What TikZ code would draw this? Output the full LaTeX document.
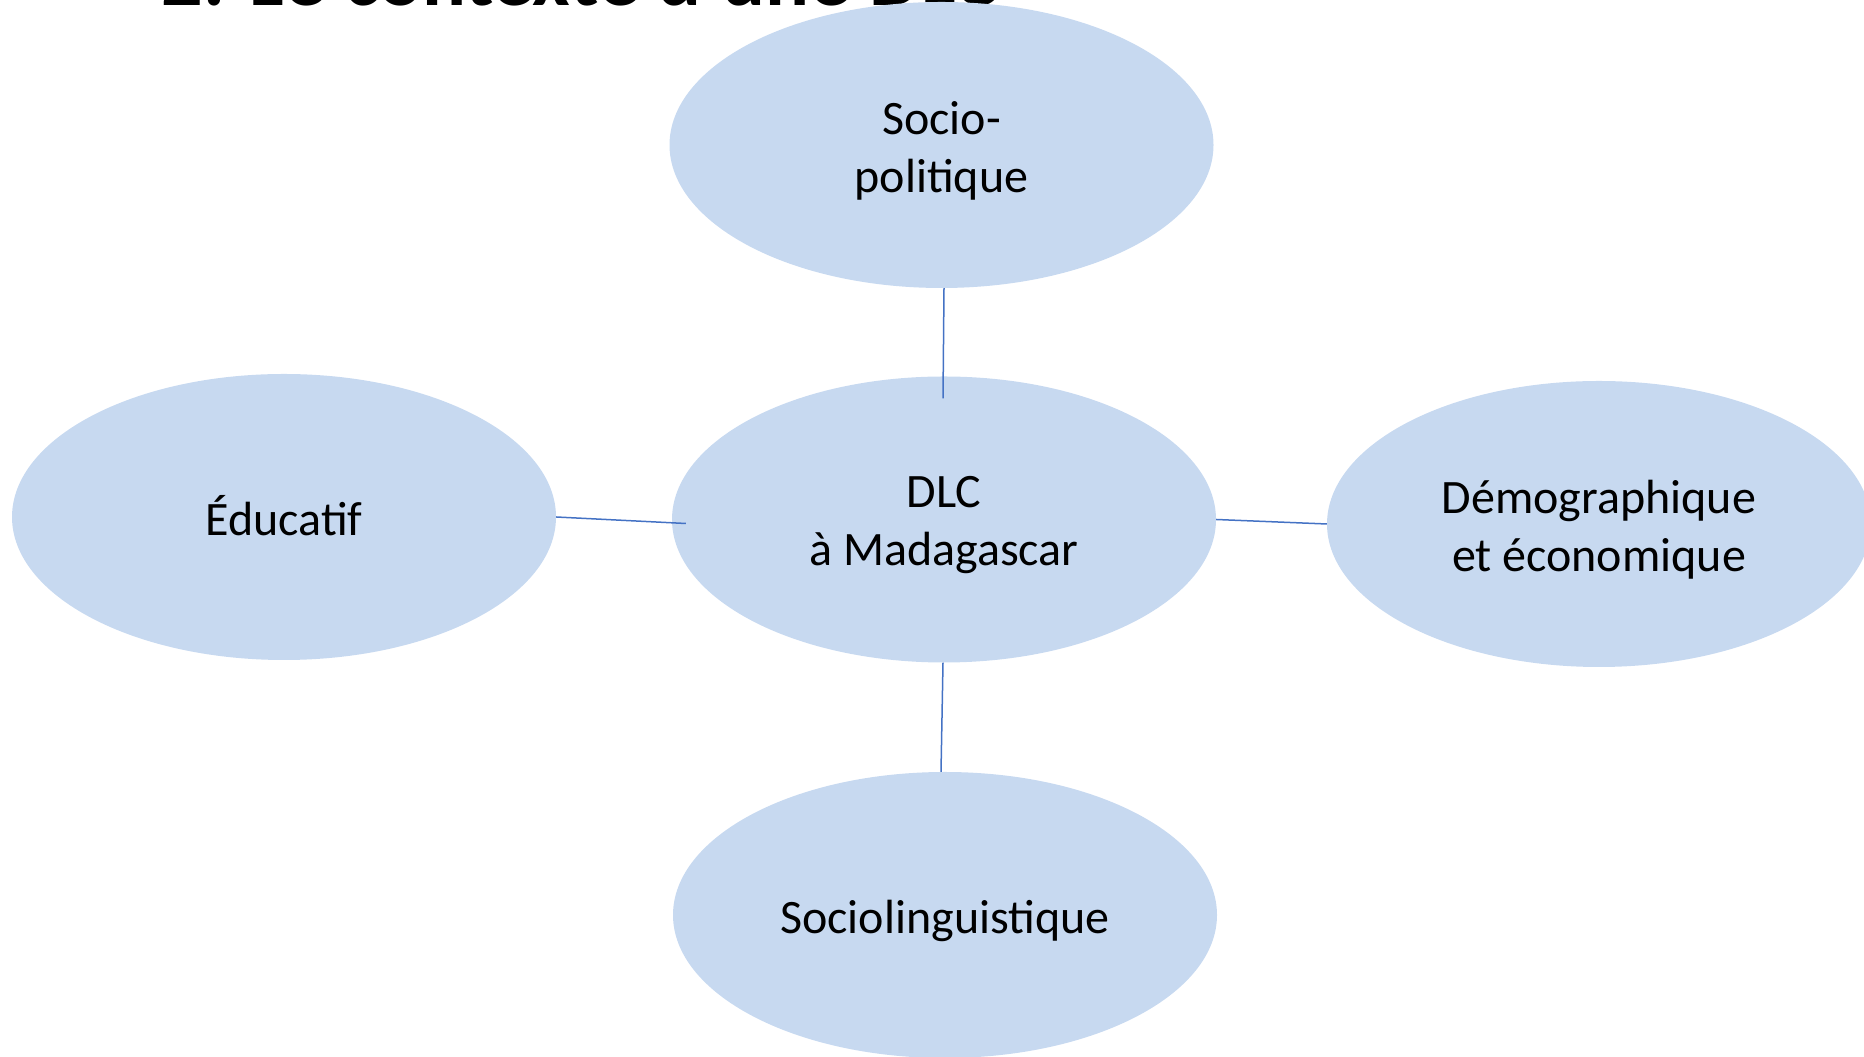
\documentclass[tikz,border=0pt]{standalone}
\usepackage{fontspec}
\setmainfont{Carlito}
\usetikzlibrary{shapes.geometric}
\definecolor{ellfill}{RGB}{199,217,240}
\definecolor{linkblue}{RGB}{68,114,196}
\begin{document}
\begin{tikzpicture}[x=1pt,y=1pt,
  bubble/.style={ellipse, fill=ellfill, minimum width=544pt, minimum height=286pt, inner sep=0pt},
  btext/.style={align=center, inner sep=0pt, font=\fontsize{48}{58}\selectfont},
  link/.style={draw=linkblue, line width=1.5pt}]
\useasboundingbox (0,0) rectangle (1864,1057);
\clip (0,0) rectangle (1864,1057);
\node[anchor=base west, font=\fontsize{82}{98}\selectfont\bfseries] (title) at (158,1051) {2. Le contexte d'une DLC};
\node[bubble] (top) at (941.5,912) {};
\node[bubble] (center) at (944,537.5) {};
\node[bubble] (left) at (284,540) {};
\node[bubble] (right) at (1599,533) {};
\node[bubble] (bottom) at (945,142) {};
\node[btext] (topT) at ([yshift=-6pt]top.center) {Socio-\\politique};
\node[btext] (centerT) at ([yshift=-6pt]center.center) {DLC\\à Madagascar};
\node[btext] (leftT) at ([yshift=1pt]left.center) {Éducatif};
\node[btext] (rightT) at ([yshift=-6pt]right.center) {Démographique\\et économique};
\node[btext] (bottomT) at ([yshift=-6pt]bottom.center) {Sociolinguistique};
\draw[link] ([xshift=2.5pt]top.south) -- ([xshift=-1pt,yshift=-22pt]center.north);
\draw[link] (left.east) -- ([xshift=14pt,yshift=-4pt]center.west);
\draw[link] (center.east) -- (right.west);
\draw[link] ([xshift=-1pt]center.south) -- ([xshift=-4pt]bottom.north);
\end{tikzpicture}
\end{document}
